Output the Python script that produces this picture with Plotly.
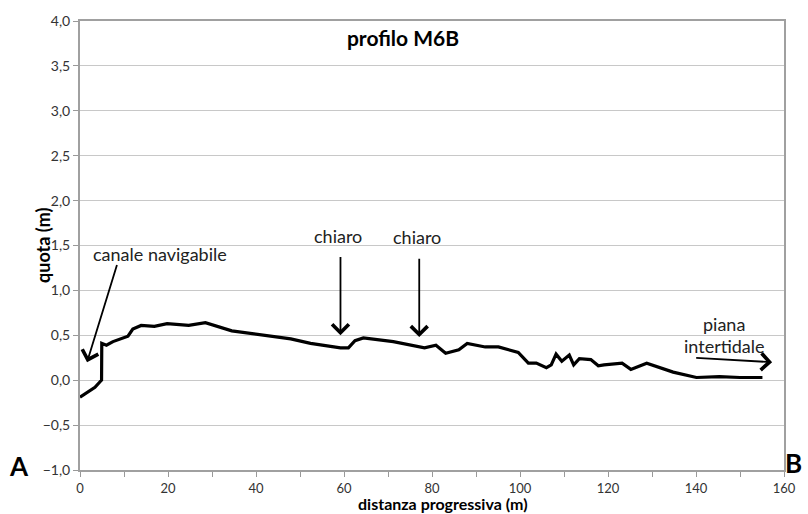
import plotly.graph_objects as go

# Profile M6B: progressive distance (m) and elevation (m)
dist = [0, 3.4, 4.5, 4.9, 4.95, 6.0, 7.5, 8.6, 10.9, 12.0, 13.9, 16.9, 19.8, 24.7,
        28.5, 34.5, 40.4, 47.9, 52.4, 59.2, 61.0, 62.5, 64.4, 71.2, 78.3, 80.9,
        83.1, 86.1, 88.0, 92.1, 95.1, 99.6, 101.9, 103.7, 106.0, 107.1, 108.2,
        109.5, 111.2, 112.2, 113.5, 116.1, 117.8, 119.1, 123.2, 125.2, 128.8,
        134.8, 140.1, 145.3, 150.0, 155.1]
quota = [-0.19, -0.08, -0.02, 0.0, 0.41, 0.39, 0.43, 0.45, 0.49, 0.57, 0.61, 0.60,
         0.63, 0.61, 0.64, 0.55, 0.51, 0.46, 0.41, 0.36, 0.36, 0.44, 0.47, 0.43,
         0.36, 0.39, 0.30, 0.34, 0.41, 0.37, 0.37, 0.31, 0.19, 0.19, 0.14, 0.17,
         0.29, 0.21, 0.28, 0.17, 0.24, 0.23, 0.16, 0.17, 0.19, 0.12, 0.19, 0.09,
         0.03, 0.04, 0.03, 0.03]

x_ticks = [0, 20, 40, 60, 80, 100, 120, 140, 160]
y_ticks = [-1.0, -0.5, 0.0, 0.5, 1.0, 1.5, 2.0, 2.5, 3.0, 3.5, 4.0]

# Labelled features along the profile: (label, text x, text y, arrow tail, arrow head)
features = [
    ("canale navigabile", 18.2, 1.40, (8.5, 1.30), (1.6, 0.20)),
    ("chiaro", 58.7, 1.61, (59.2, 1.39), (59.2, 0.50)),
    ("chiaro", 76.7, 1.59, (77.1, 1.37), (77.1, 0.48)),
]

FONT = "Lato"
TXT = "#222222"
ANN_SIZE = 18
ARROW = dict(showarrow=True, arrowhead=4, arrowsize=1.8, arrowwidth=1.8,
             arrowcolor="black")

fig = go.Figure()
fig.add_trace(go.Scatter(
    x=dist, y=quota, mode="lines",
    line=dict(color="black", width=3.2),
    showlegend=False, hoverinfo="skip",
))

annotations = []
for label, tx, ty, tail, head in features:
    annotations.append(dict(
        x=tx, y=ty, xref="x", yref="y", text=label, showarrow=False,
        font=dict(family=FONT, size=ANN_SIZE, color=TXT),
        xanchor="center", yanchor="middle",
    ))
    annotations.append(dict(
        x=head[0], y=head[1], ax=tail[0], ay=tail[1],
        xref="x", yref="y", axref="x", ayref="y", text="", **ARROW,
    ))

# Tidal flat label with a rightward arrow
annotations += [
    dict(x=146.4, y=0.63, xref="x", yref="y", text="piana", showarrow=False,
         font=dict(family=FONT, size=ANN_SIZE, color=TXT)),
    dict(x=146.4, y=0.38, xref="x", yref="y", text="intertidale", showarrow=False,
         font=dict(family=FONT, size=ANN_SIZE, color=TXT)),
    dict(x=157.3, y=0.20, ax=139.7, ay=0.25, xref="x", yref="y",
         axref="x", ayref="y", text="", **ARROW),
]

# Axis titles and section end labels
annotations += [
    dict(x=-0.0534, y=0.5, xref="paper", yref="paper", text="<b>quota (m)</b>",
         textangle=-90, showarrow=False, xanchor="center", yanchor="middle",
         font=dict(family=FONT, size=18, color="black")),
    dict(x=0.5154, y=-0.074, xref="paper", yref="paper",
         text="<b>distanza progressiva (m)</b>", showarrow=False,
         xanchor="center", yanchor="middle",
         font=dict(family=FONT, size=16, color="black")),
    dict(x=-0.0871, y=0.009, xref="paper", yref="paper", text="<b>A</b>",
         showarrow=False, xanchor="center", yanchor="middle",
         font=dict(family=FONT, size=26, color="black")),
    dict(x=1.014, y=0.0156, xref="paper", yref="paper", text="<b>B</b>",
         showarrow=False, xanchor="center", yanchor="middle",
         font=dict(family=FONT, size=26, color="black")),
]

fig.update_layout(
    width=808, height=514,
    margin=dict(l=80, r=16, t=20, b=44),
    paper_bgcolor="white", plot_bgcolor="white",
    separators=",.",
    title=dict(text="<b>profilo M6B</b>", x=403 / 808, y=1 - 38.5 / 514,
               xanchor="center", yanchor="middle", xref="container",
               yref="container",
               font=dict(family=FONT, size=21, color="black")),
    annotations=annotations,
    font=dict(family=FONT, size=13, color="#333333"),
)

fig.update_xaxes(
    range=[0, 160], tickvals=x_ticks, ticks="outside", ticklen=5,
    tickcolor="#999999", tickwidth=1,
    minor=dict(dtick=10, tick0=0, ticks="outside", ticklen=5,
               tickcolor="#999999", showgrid=False),
    showgrid=False, zeroline=False,
    showline=True, linecolor="#a0a0a0", linewidth=2, mirror=True,
    tickfont=dict(family=FONT, size=13, color="#333333"),
)
fig.update_yaxes(
    range=[-1, 4], tickvals=y_ticks, tickformat=".1f",
    ticks="outside", ticklen=5, tickcolor="#999999",
    showgrid=True, gridcolor="#c8c8c8", gridwidth=1, zeroline=False,
    showline=True, linecolor="#a0a0a0", linewidth=2, mirror=True,
    tickfont=dict(family=FONT, size=14, color="#333333"),
)

fig.write_html("out.html")
